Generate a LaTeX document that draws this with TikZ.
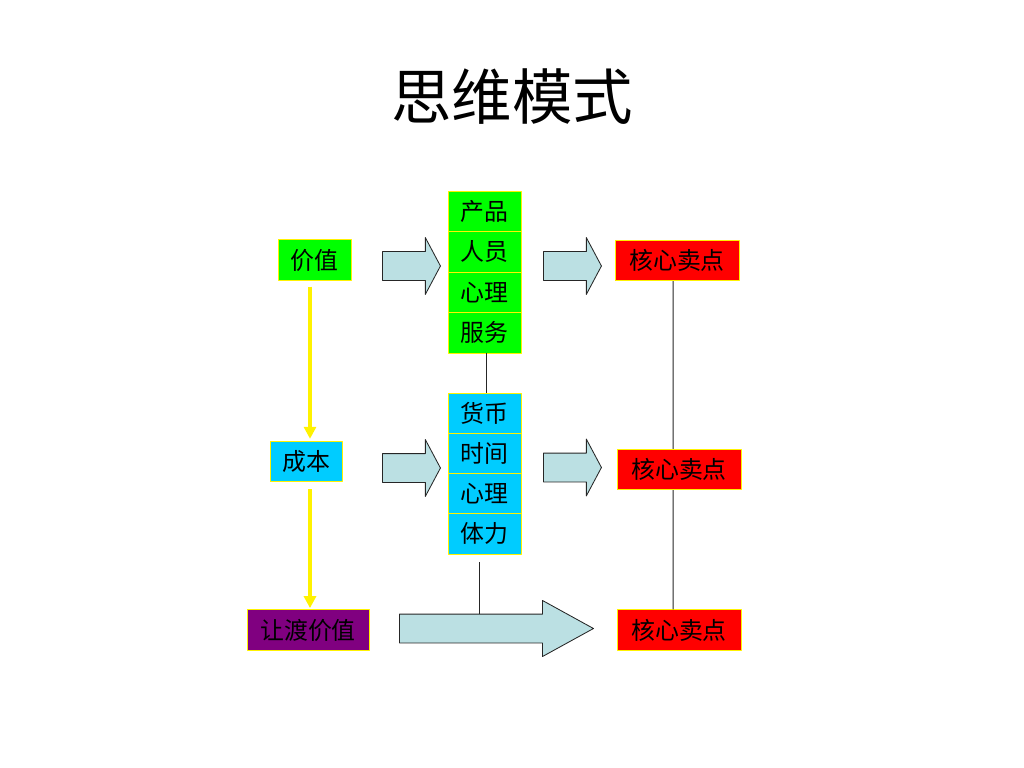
\documentclass[tikz,border=0pt]{standalone}
\usepackage{fontspec}
\setmainfont{Noto Sans CJK SC}
\usetikzlibrary{arrows.meta,shapes.arrows}
\definecolor{gruen}{RGB}{0,255,0}
\definecolor{himmel}{RGB}{0,204,255}
\definecolor{lila}{RGB}{128,0,128}
\definecolor{pfeil}{RGB}{187,224,227}
\begin{document}
\begin{tikzpicture}[x=0.025cm,y=-0.025cm,font=\fontsize{17}{20}\selectfont, line join=round, >=stealth,
	box/.style={draw=yellow,line width=0.6pt,inner sep=0pt,minimum height=1.0125cm},
	blk/.style={single arrow,draw=black!85,fill=pfeil,line width=0.6pt,inner xsep=0pt,inner ysep=0.35cm,single arrow head indent=0pt,
		single arrow head extend=0.35cm,minimum height=1.45cm,single arrow tip angle=124,anchor=tail},
	gelb/.style={draw=yellow,line width=2.2pt,-{Triangle[width=0.3cm,length=0.3cm]}}]
	\useasboundingbox (0,0) rectangle (1024,768);
	\node[font=\fontsize{43}{50}\selectfont] (titel) at (512,97) {思维模式};
	% linke Spalte
	\node[box,fill=gruen,minimum width=1.825cm] (wert) at (314.5,260) {价值};
	\node[box,fill=himmel,minimum width=1.8cm] (kosten) at (306,461.5) {成本};
	\node[box,fill=lila,minimum width=3.05cm] (rang) at (308,630) {让渡价值};
	\coordinate (spalte) at (310,0);
	\draw[gelb] ([yshift=-0.15cm]wert.south -| spalte) -- ([yshift=0.05cm]kosten.north -| spalte);
	\draw[gelb] ([yshift=-0.18cm]kosten.south -| spalte) -- ([yshift=0.03cm]rang.north -| spalte);
	% Stapel
	\foreach \t [count=\i] in {产品,人员,心理,服务}
		\node[box,fill=gruen,minimum width=1.825cm] (g\i) at (484.5,{170.75+40.5*\i}) {\t};
	\foreach \t [count=\i] in {货币,时间,心理,体力}
		\node[box,fill=himmel,minimum width=1.825cm,minimum height=1.00625cm] (b\i) at (484.5,{372.875+40.25*\i}) {\t};
	\draw[line width=0.7pt,black!85] ([xshift=0.06cm]g4.south) -- ([xshift=0.06cm]b1.north);
	% rechte Spalte
	\node[box,fill=red,minimum width=3.1cm] (kern1) at (677,260.5) {核心卖点};
	\node[box,fill=red,minimum width=3.1cm] (kern2) at (679,469.5) {核心卖点};
	\node[box,fill=red,minimum width=3.1cm] (kern3) at (679,630) {核心卖点};
	\draw[line width=0.7pt,black!85] ([xshift=-0.1cm]kern1.south) -- ([xshift=-0.15cm]kern2.north)
		([xshift=-0.15cm]kern2.south) -- ([xshift=-0.15cm]kern3.north);
	% Blockpfeile
	\node[blk] (p1) at (382,266) {};
	\node[blk] (p2) at (382,468) {};
	\node[blk] (p3) at (543,266) {};
	\node[blk] (p4) at (543,467.5) {};
	\node[blk,single arrow head extend=0.34cm,minimum height=4.85cm,single arrow tip angle=57.6] (p5) at (399,628.5) {};
	\coordinate (knick) at (479,0);
	\draw[line width=0.7pt,black!85] ([yshift=-0.2cm]b4.south -| knick) -- (knick |- p5.north);
\end{tikzpicture}
\end{document}
